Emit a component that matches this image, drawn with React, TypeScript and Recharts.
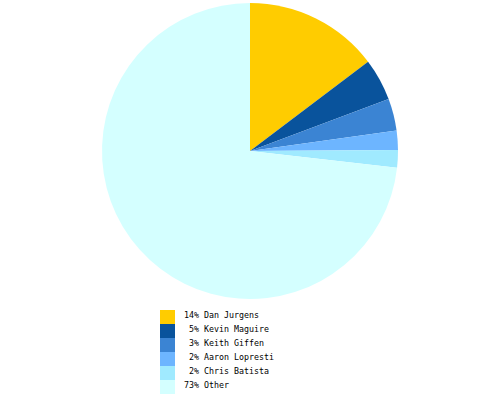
import React from 'react';
import { PieChart, Pie, Cell, Legend } from 'recharts';

const names = ['Dan Jurgens', 'Kevin Maguire', 'Keith Giffen', 'Aaron Lopresti', 'Chris Batista', 'Other'];
const values = [14.7, 4.6, 3.5, 2.1, 1.9, 73.2];
const pctLabels = ['14%', '5%', '3%', '2%', '2%', '73%'];
const colors = ['#FFCC00', '#09539C', '#3B84D3', '#6DB5FF', '#A0EAFF', '#D4FFFF'];

const data = names.map((name, i) => ({ name, value: values[i] }));

const LegendBox = () => (
  <div style={{ fontFamily: '"DejaVu Sans Mono", monospace', fontSize: 8.3, color: '#000' }}>
    {names.map((n, i) => (
      <div key={n} style={{ display: 'flex', alignItems: 'flex-start', height: 14 }}>
        <div style={{ width: 15, height: 14, background: colors[i] }} />
        <span style={{ whiteSpace: 'pre', marginLeft: 9, lineHeight: '10px', marginTop: 0 }}>
          {pctLabels[i].padStart(3, ' ')} {n}
        </span>
      </div>
    ))}
  </div>
);

export default function App() {
  return (
    <div style={{ position: 'absolute', left: 0, top: 0, width: 500, height: 400, background: '#fff' }}>
      <PieChart width={500} height={400} margin={{ top: 0, right: 0, bottom: 0, left: 0 }}>
        <Pie
          data={data}
          dataKey="value"
          cx={250}
          cy={151}
          outerRadius={148}
          startAngle={90}
          endAngle={-270}
          stroke="none"
          isAnimationActive={false}
        >
          {data.map((d, i) => (
            <Cell key={d.name} fill={colors[i]} />
          ))}
        </Pie>
        <Legend
          content={<LegendBox />}
          layout="vertical"
          wrapperStyle={{ position: 'absolute', left: 160, top: 310, width: 200, bottom: 'auto' }}
        />
      </PieChart>
    </div>
  );
}
